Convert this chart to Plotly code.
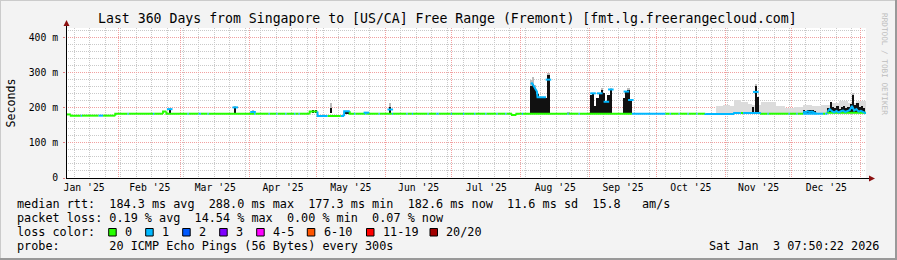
import plotly.graph_objects as go
import pandas as pd

# ---------------- data ----------------
RANGE_START = "2025-01-08 07:50"
RANGE_END = "2026-01-03 07:50"

# median rtt (ms) as steps: each entry holds from its date until the next one; loss bucket index
median_dates = [
    "2025-01-08 07:50", "2025-01-10 12:00", "2025-01-15", "2025-01-15 12:00", "2025-01-23", "2025-01-25",
    "2025-01-30 12:00", "2025-02-05", "2025-02-05 12:00", "2025-02-16 12:00", "2025-02-17", "2025-02-21",
    "2025-02-22 12:00", "2025-03-04", "2025-03-04 12:00", "2025-03-09", "2025-03-10", "2025-03-13",
    "2025-03-13 12:00", "2025-04-03", "2025-04-03 12:00", "2025-04-09 12:00", "2025-04-10", "2025-04-13",
    "2025-04-13 12:00", "2025-04-17", "2025-04-17 12:00", "2025-04-21", "2025-04-21 12:00", "2025-04-23", "2025-04-23 12:00",
    "2025-04-28", "2025-05-01 12:00", "2025-05-06", "2025-05-12", "2025-05-13 12:00", "2025-05-16",
    "2025-05-18", "2025-05-18 12:00", "2025-05-23", "2025-05-23 12:00", "2025-05-29", "2025-05-29 12:00", "2025-06-04",
    "2025-06-04 12:00", "2025-06-10 12:00", "2025-06-11", "2025-06-13", "2025-06-13 12:00", "2025-06-20",
    "2025-06-20 12:00", "2025-06-24", "2025-06-25", "2025-06-30 12:00", "2025-07-01", "2025-07-06",
    "2025-07-06 12:00", "2025-07-11", "2025-07-11 12:00", "2025-07-16", "2025-07-16 12:00", "2025-07-21", "2025-07-21 12:00",
    "2025-07-25", "2025-07-25 12:00", "2025-07-28", "2025-07-30", "2025-08-01 12:00", "2025-08-02",
    "2025-08-22", "2025-08-22 12:00", "2025-08-27", "2025-08-27 12:00", "2025-09-20", "2025-10-05", "2025-10-07",
    "2025-10-07 12:00", "2025-10-11", "2025-10-11 12:00", "2025-10-15", "2025-10-15 12:00", "2025-10-19", "2025-10-19 12:00",
    "2025-10-23", "2025-11-05", "2025-11-08", "2025-11-09", "2025-11-17", "2025-11-20", "2025-11-20 12:00",
    "2025-11-29 12:00", "2025-11-30", "2025-12-03", "2025-12-03 12:00", "2025-12-06", "2025-12-15",
    "2025-12-16", "2025-12-17",
]
median_ms = [
    181, 177.5, 177.5, 177.5, 177.5, 177.5,
    183, 183, 183, 183, 183, 189,
    183, 183, 183, 183, 183, 183,
    183, 183, 183, 183, 183, 183,
    183, 183, 183, 183, 183, 183, 183,
    189, 176.5, 176.5, 176.5, 190, 183,
    183, 183, 183, 183, 183, 183, 183,
    183, 183, 183, 183, 183, 183,
    183, 183, 183, 183, 183, 183,
    183, 183, 183, 183, 183, 183, 183,
    183, 183, 179, 183, 183, 183,
    183, 183, 183, 183, 183, 183, 183,
    183, 183, 183, 183, 183, 183, 183,
    182, 185, 185, 185, 183, 183, 183,
    183, 183, 183, 183, 183, 183,
    183, 186,
]
median_loss = [
    0, 0, 1, 0, 1, 0,
    0, 1, 0, 1, 0, 0,
    0, 1, 0, 1, 0, 1,
    0, 1, 0, 1, 0, 1,
    0, 1, 0, 1, 0, 1, 0,
    0, 1, 0, 1, 1, 0,
    1, 0, 1, 0, 1, 0, 1,
    0, 1, 0, 1, 0, 1,
    0, 1, 0, 1, 0, 1,
    0, 1, 0, 1, 0, 1, 0,
    1, 0, 0, 0, 1, 0,
    1, 0, 1, 0, 1, 0, 1,
    0, 1, 0, 1, 0, 1, 0,
    1, 1, 0, 1, 0, 1, 0,
    1, 0, 1, 0, 1, 0,
    1, 0,
]

# elevated median stretches (blue line), None separates stretches
elev_dates = [
    "2025-08-05 18:00", "2025-08-05 22:00", "2025-08-08 06:00", "2025-08-08 12:00", "2025-08-12 08:00", None,
    "2025-12-06", "2025-12-07", "2025-12-08", "2025-12-09", "2025-12-10", "2025-12-11", "2025-12-12", None,
    "2025-12-17", "2025-12-18", "2025-12-19", "2025-12-20", "2025-12-21", "2025-12-22", "2025-12-23",
    "2025-12-24", "2025-12-25", "2025-12-26", "2025-12-27", "2025-12-28", "2025-12-29", "2025-12-30",
    "2025-12-31", "2026-01-01", "2026-01-02", "2026-01-03 07:50",
]
elev_ms = [
    266, 271, 246, 230, 230, None,
    189, 187, 190, 188, 189, 187, 183, None,
    188, 196, 190, 187, 191, 187, 190,
    192, 188, 190, 193, 205, 192, 196,
    189, 191, 188, 184,
]

# dense smoke (black) columns: top value in ms
black_dates = [
    "2025-02-24 00:00", "2025-03-25 12:00", "2025-04-29 12:00", "2025-04-30 18:00", "2025-05-07 12:00",
    "2025-05-14 06:00", "2025-05-15 06:00", "2025-06-03 06:00",
    "2025-08-05 12:00", "2025-08-06 12:00", "2025-08-07 12:00", "2025-08-08 12:00", "2025-08-09 12:00",
    "2025-08-10 12:00", "2025-08-11 12:00", "2025-08-12 06:00", "2025-08-13 10:00",
    "2025-09-01 12:00", "2025-09-02 12:00", "2025-09-03 12:00", "2025-09-04 12:00", "2025-09-05 12:00",
    "2025-09-06 12:00", "2025-09-07 12:00", "2025-09-08 12:00", "2025-09-09 12:00", "2025-09-10 12:00",
    "2025-09-16 12:00", "2025-09-17 12:00", "2025-09-18 12:00", "2025-09-19 12:00",
    "2025-11-13 12:00", "2025-11-14 18:00", "2025-11-15 18:00",
    "2025-12-06 12:00", "2025-12-07 12:00", "2025-12-08 12:00", "2025-12-09 12:00", "2025-12-10 12:00",
    "2025-12-11 12:00", "2025-12-17 12:00", "2025-12-18 12:00", "2025-12-19 12:00", "2025-12-20 12:00",
    "2025-12-21 12:00", "2025-12-22 12:00", "2025-12-23 12:00", "2025-12-24 12:00", "2025-12-25 12:00",
    "2025-12-26 12:00", "2025-12-27 12:00", "2025-12-28 12:00", "2025-12-29 12:00", "2025-12-30 12:00",
    "2025-12-31 12:00", "2026-01-01 12:00", "2026-01-02 12:00",
]
black_tops = [
    196, 201, 193, 195, 199,
    190, 190, 203,
    262, 268, 256, 240, 232,
    229, 232, 228, 293,
    236, 241, 205, 227, 241,
    250, 241, 217, 236, 252,
    227, 246, 250, 222,
    203, 262, 232,
    194, 192, 195, 193, 194,
    191, 198, 217, 203, 198,
    205, 197, 203, 206, 199,
    203, 210, 236, 208, 213,
    201, 204, 198,
]

# sparse smoke (grey) above spikes: top value in ms
smoke_dates = [
    "2025-02-24 00:00", "2025-03-25 12:00", "2025-04-02 12:00", "2025-05-07 12:00", "2025-05-23 12:00",
    "2025-06-03 06:00", "2025-08-05 12:00", "2025-08-06 12:00", "2025-08-07 12:00", "2025-08-13 10:00",
    "2025-08-22 12:00", "2025-09-06 12:00", "2025-09-10 12:00", "2025-09-18 12:00", "2025-11-14 18:00",
    "2025-12-28 12:00",
]
smoke_tops = [
    200, 205, 193, 214, 189,
    213, 280, 287, 265, 300,
    188, 256, 257, 255, 268,
    242,
]

# light smoke haze (Oct - Jan): each top holds from its date to the next date
haze_dates = [
    "2025-10-28", "2025-10-31", "2025-11-03", "2025-11-05", "2025-11-08", "2025-11-11", "2025-11-13",
    "2025-11-17", "2025-11-21", "2025-11-24", "2025-11-28", "2025-12-02", "2025-12-06", "2025-12-10",
    "2025-12-14", "2025-12-18", "2025-12-22", "2025-12-26", "2025-12-30", "2026-01-03 07:50",
]
haze_tops = [205, 208, 206, 222, 217, 210, 208, 217, 215, 205, 199, 201, 208, 206, 209, 213, 218, 214, 220]
HAZE_BASE = 183

# blue median marks at spike tops
cap_dates = [
    "2025-02-24 00:00", "2025-03-25 12:00", "2025-04-02 12:00", "2025-05-23 12:00", "2025-06-03 06:00",
    "2025-08-13 10:00", "2025-09-02 12:00", "2025-09-05 12:00", "2025-09-08 12:00", "2025-09-10 12:00",
    "2025-09-17 12:00", "2025-09-19 12:00", "2025-11-14 18:00",
]
cap_ms = [196, 201, 188, 186, 195, 280, 241, 241, 217, 252, 246, 222, 245]

y_tick_vals = [0, 100, 200, 300, 400]
y_tick_text = ["0", "100 m", "200 m", "300 m", "400 m"]

title_text = "Last 360 Days from Singapore to [US/CA] Free Range (Fremont) [fmt.lg.freerangecloud.com]"
legend_rows = [
    "median rtt:  184.3 ms avg  288.0 ms max  177.3 ms min  182.6 ms now  11.6 ms sd  15.8   am/s",
    "packet loss: 0.19 % avg  14.54 % max  0.00 % min  0.07 % now",
    "loss color:",
    "probe:       20 ICMP Echo Pings (56 Bytes) every 300s",
]
loss_labels = ["0", "1", "2", "3", "4-5", "6-10", "11-19", "20/20"]
loss_colors = ["#26ff00", "#00b8ff", "#0059ff", "#7e00ff", "#ff00ff", "#ff5500", "#ff0000", "#a10000"]
stamp_text = "Sat Jan  3 07:50:22 2026"
watermark = "RRDTOOL / TOBI OETIKER"

# ---------------- geometry / style ----------------
W, H = 897, 260
L, R, T, B = 66, 31, 28, 82
PW, PH = W - L - R, H - T - B
FONT = "DejaVu Sans Mono"
BAR_BASE = 184.5
BAR_W = 1.05 * 86400000


def px(x):
    return (x - L) / PW


def py(y):
    return (H - B - y) / PH


def nb(s):
    return s.replace(" ", "\u00a0")


fig = go.Figure()

# haze (bars drawn in the bar layer, under the black smoke)
haze_t = pd.to_datetime(haze_dates, format="mixed")
haze_w = [(b - a).total_seconds() * 1000 for a, b in zip(haze_t[:-1], haze_t[1:])]
fig.add_trace(go.Bar(x=haze_dates[:-1], y=[t - HAZE_BASE for t in haze_tops], base=HAZE_BASE,
                     width=haze_w, offset=0, marker=dict(color="#dcdcdc", line=dict(width=0)),
                     hoverinfo="skip"))
# grey smoke columns
fig.add_trace(go.Bar(x=smoke_dates, y=[t - BAR_BASE for t in smoke_tops], base=BAR_BASE, width=BAR_W,
                     marker=dict(color="#bcbcbc", line=dict(width=0)), hoverinfo="skip"))
# black dense smoke
fig.add_trace(go.Bar(x=black_dates, y=[t - BAR_BASE for t in black_tops], base=BAR_BASE, width=BAR_W,
                     marker=dict(color="#111111", line=dict(width=0)), hoverinfo="skip"))

# median segments coloured by loss
segs = {}
ends = median_dates[1:] + [RANGE_END]
prev = median_ms[0]
for d, e, v, c in zip(median_dates, ends, median_ms, median_loss):
    xs, ys = segs.setdefault(c, ([], []))
    xs += [d, d, e, None]
    ys += [prev, v, v, None]
    prev = v
for c in sorted(segs):
    xs, ys = segs[c]
    fig.add_trace(go.Scatter(x=xs, y=ys, mode="lines", line=dict(color=loss_colors[c], width=2),
                             hoverinfo="skip"))

# elevated median line
fig.add_trace(go.Scatter(x=elev_dates, y=elev_ms, mode="lines", connectgaps=False,
                         line=dict(color=loss_colors[1], width=2), hoverinfo="skip"))
# caps
fig.add_trace(go.Scatter(x=cap_dates, y=cap_ms, mode="markers",
                         marker=dict(symbol="line-ew", size=4, line=dict(width=2, color=loss_colors[1])),
                         hoverinfo="skip"))

GRID_MINOR = "#c9c9c9"
GRID_MAJOR = "#f2a0a0"

fig.update_layout(
    width=W, height=H, margin=dict(l=L, r=R, t=T, b=B, pad=0),
    paper_bgcolor="#f3f3f3", plot_bgcolor="#ffffff", showlegend=False,
    barmode="overlay", bargap=0,
    font=dict(family=FONT, color="#000000"),
    xaxis=dict(
        type="date", range=[RANGE_START, RANGE_END], dtick="M1", tick0="2025-01-01",
        tickformat="%b '%y", ticklabelmode="period", showgrid=True, gridcolor=GRID_MAJOR,
        griddash="1px,1px", gridwidth=1, ticks="", showline=False, zeroline=False,
        tickfont=dict(family=FONT, size=9.75, color="#000000"), ticklabelstandoff=2,
        minor=dict(dtick=7 * 86400000, tick0="2025-01-05", showgrid=True, gridcolor=GRID_MINOR,
                   griddash="1px,1px", gridwidth=1),
    ),
    yaxis=dict(
        range=[0, 427], tickvals=y_tick_vals, ticktext=y_tick_text, showgrid=True,
        gridcolor=GRID_MAJOR, griddash="1px,1px", gridwidth=1, zeroline=False, showline=False,
        ticks="outside", ticklen=2, tickcolor="#e08080",
        tickfont=dict(family=FONT, size=9.75, color="#000000"), ticklabelstandoff=3,
        minor=dict(dtick=20, tick0=0, showgrid=True, gridcolor=GRID_MINOR, griddash="1px,1px", gridwidth=1),
    ),
)

shapes = []
# frame shading
shapes.append(dict(type="line", xref="paper", yref="paper", x0=px(0), x1=px(W), y0=py(0.5), y1=py(0.5),
                   line=dict(color="#cbcbcb", width=1)))
shapes.append(dict(type="line", xref="paper", yref="paper", x0=px(0.5), x1=px(0.5), y0=py(0), y1=py(H),
                   line=dict(color="#cbcbcb", width=1)))
shapes.append(dict(type="line", xref="paper", yref="paper", x0=px(0), x1=px(W), y0=py(H - 1), y1=py(H - 1),
                   line=dict(color="#999999", width=2)))
shapes.append(dict(type="line", xref="paper", yref="paper", x0=px(W - 1), x1=px(W - 1), y0=py(0), y1=py(H),
                   line=dict(color="#999999", width=2)))
# axes with arrows
shapes.append(dict(type="line", xref="paper", yref="paper", x0=px(L), x1=px(870), y0=py(178.5), y1=py(178.5),
                   line=dict(color="#000000", width=1)))
shapes.append(dict(type="line", xref="paper", yref="paper", x0=px(L + 0.5), x1=px(L + 0.5), y0=py(178), y1=py(25),
                   line=dict(color="#000000", width=1)))
shapes.append(dict(type="path", xref="paper", yref="paper",
                   path=f"M {px(869)},{py(175.5)} L {px(875)},{py(178.5)} L {px(869)},{py(181.5)} Z",
                   fillcolor="#8b1010", line=dict(width=0)))
shapes.append(dict(type="path", xref="paper", yref="paper",
                   path=f"M {px(63.5)},{py(26)} L {px(66.5)},{py(20)} L {px(69.5)},{py(26)} Z",
                   fillcolor="#8b1010", line=dict(width=0)))

annotations = []
annotations.append(dict(text=nb(title_text), x=px(447), y=py(18.5), xref="paper", yref="paper",
                        xanchor="center", yanchor="middle", showarrow=False,
                        font=dict(family=FONT, size=13.2, color="#000000")))
annotations.append(dict(text="Seconds", x=px(10.5), y=py(103), xref="paper", yref="paper",
                        xanchor="center", yanchor="middle", showarrow=False, textangle=-90,
                        font=dict(family=FONT, size=11.6, color="#000000")))
row_y = [204.3, 218.3, 232.3, 246.3]
for txt, yy in zip(legend_rows, row_y):
    annotations.append(dict(text=nb(txt), x=px(16), y=py(yy), xref="paper", yref="paper",
                            xanchor="left", yanchor="middle", showarrow=False, borderpad=0,
                            font=dict(family=FONT, size=11.8, color="#000000")))
box_left = [108.7, 145.7, 182.7, 219.7, 256.7, 307.3, 366.5, 430.0]
for bl, lab, col in zip(box_left, loss_labels, loss_colors):
    shapes.append(dict(type="rect", xref="paper", yref="paper", x0=px(bl), x1=px(bl + 7.5),
                       y0=py(236), y1=py(228.5), fillcolor=col, line=dict(color="#000000", width=1)))
    annotations.append(dict(text=lab, x=px(bl + 15.3), y=py(232.3), xref="paper", yref="paper",
                            xanchor="left", yanchor="middle", showarrow=False, borderpad=0,
                            font=dict(family=FONT, size=11.8, color="#000000")))
annotations.append(dict(text=nb(stamp_text), x=px(880), y=py(246.3), xref="paper", yref="paper",
                        xanchor="right", yanchor="middle", showarrow=False, borderpad=0,
                        font=dict(family=FONT, size=11.8, color="#000000")))
annotations.append(dict(text=nb(watermark), x=px(885), y=py(64), xref="paper", yref="paper",
                        xanchor="center", yanchor="middle", showarrow=False, textangle=90,
                        font=dict(family=FONT, size=7.7, color="#bdbdbd")))

fig.update_layout(shapes=shapes, annotations=annotations)
fig.write_html("out.html")
